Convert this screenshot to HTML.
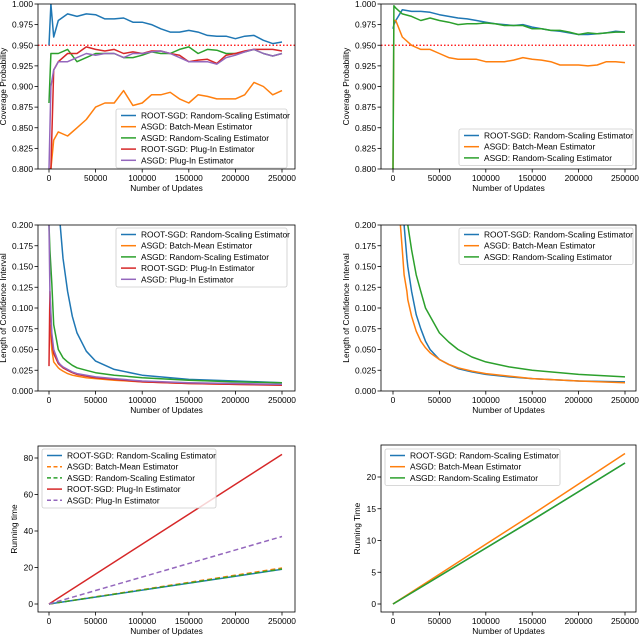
<!DOCTYPE html>
<html><head><meta charset="utf-8"><style>
body{margin:0;background:#fff}
svg{display:block;font-family:"Liberation Sans","DejaVu Sans",sans-serif}
</style></head><body>
<svg id="fig" width="640" height="636" viewBox="0 0 640 636" xmlns="http://www.w3.org/2000/svg"></svg>
<script>
// ---- data ----
const covX1 = [0,2000,5000,10000,20000,30000,40000,50000,60000,70000,80000,90000,100000,110000,120000,130000,140000,150000,160000,170000,180000,190000,200000,210000,220000,230000,240000,250000];
const cov1Root = [0.95,1.0,0.96,0.98,0.988,0.985,0.988,0.987,0.982,0.982,0.983,0.978,0.978,0.975,0.97,0.966,0.966,0.968,0.966,0.962,0.961,0.961,0.958,0.961,0.962,0.956,0.952,0.954];
const cov1Batch = [0.80,0.80,0.835,0.845,0.84,0.85,0.86,0.875,0.88,0.88,0.895,0.877,0.88,0.89,0.89,0.893,0.885,0.88,0.89,0.888,0.885,0.885,0.885,0.89,0.905,0.9,0.89,0.895];
const cov1AsgdRS = [0.88,0.94,0.94,0.94,0.945,0.93,0.935,0.94,0.94,0.94,0.935,0.935,0.938,0.942,0.94,0.94,0.945,0.948,0.94,0.945,0.944,0.94,0.94,0.942,0.945,0.94,0.937,0.94];
const cov1RootPI = [0.80,0.80,0.92,0.93,0.94,0.94,0.948,0.945,0.943,0.945,0.94,0.942,0.94,0.943,0.943,0.94,0.938,0.93,0.932,0.933,0.928,0.938,0.94,0.943,0.945,0.945,0.945,0.943];
const cov1AsgdPI = [0.80,0.90,0.92,0.93,0.93,0.935,0.94,0.938,0.94,0.94,0.935,0.94,0.94,0.942,0.943,0.94,0.935,0.93,0.93,0.93,0.927,0.935,0.938,0.942,0.945,0.94,0.937,0.94];
const covX2 = [0,1000,3000,10000,20000,30000,40000,50000,60000,70000,80000,90000,100000,110000,120000,130000,140000,150000,160000,170000,180000,190000,200000,210000,220000,230000,240000,250000];
const cov2Root = [0.97,0.975,0.98,0.993,0.991,0.991,0.99,0.987,0.985,0.983,0.982,0.98,0.978,0.976,0.975,0.974,0.975,0.972,0.97,0.968,0.967,0.965,0.963,0.963,0.964,0.965,0.967,0.966];
const cov2Batch = [0.80,0.98,0.98,0.96,0.95,0.945,0.945,0.94,0.935,0.933,0.933,0.933,0.93,0.93,0.93,0.932,0.935,0.933,0.932,0.93,0.926,0.926,0.926,0.925,0.926,0.93,0.93,0.929];
const cov2AsgdRS = [0.80,0.998,0.995,0.988,0.985,0.98,0.983,0.98,0.978,0.975,0.976,0.976,0.977,0.976,0.974,0.974,0.974,0.97,0.97,0.968,0.968,0.966,0.963,0.965,0.964,0.965,0.966,0.966];
const ciX = [0,1000,3000,5000,10000,12000,15000,20000,25000,30000,40000,50000,70000,100000,150000,200000,250000];
const ci1Root = [null,null,null,null,null,0.2,0.16,0.12,0.09,0.07,0.048,0.036,0.026,0.019,0.014,0.012,0.010];
const ci1Batch = [null,0.08,0.05,0.035,0.028,0.026,0.024,0.021,0.019,0.018,0.016,0.015,0.013,0.011,0.009,0.008,0.0075];
const ci1AsgdRS = [0.2,0.17,0.13,0.08,0.05,0.046,0.04,0.035,0.031,0.028,0.025,0.022,0.019,0.016,0.013,0.011,0.010];
const ci1RootPI = [0.03,0.12,0.06,0.045,0.033,0.031,0.028,0.025,0.022,0.02,0.018,0.016,0.014,0.011,0.009,0.008,0.007];
const ci1AsgdPI = [0.2,0.12,0.07,0.05,0.035,0.032,0.029,0.026,0.023,0.021,0.019,0.017,0.015,0.012,0.010,0.009,0.008];
const ciX2 = [8000,10000,12000,15000,16000,20000,25000,30000,35000,40000,50000,60000,70000,85000,100000,125000,150000,200000,250000];
const ci2Root = [null,null,0.2,0.16,0.15,0.12,0.092,0.075,0.06,0.05,0.038,0.032,0.027,0.023,0.02,0.017,0.015,0.012,0.011];
const ci2Batch = [0.2,0.17,0.14,0.12,0.11,0.09,0.072,0.06,0.052,0.046,0.038,0.032,0.028,0.024,0.021,0.018,0.015,0.012,0.010];
const ci2AsgdRS = [null,null,null,null,0.2,0.17,0.14,0.12,0.1,0.09,0.07,0.059,0.05,0.041,0.035,0.029,0.025,0.02,0.017];
const rtX = [0,250000];
const rt1Root = [0,19];
const rt1Batch = [0,19.7];
const rt1AsgdRS = [0,19.2];
const rt1RootPI = [0,82];
const rt1AsgdPI = [0,37];
const rtX2 = [0,50000,100000,150000,200000,250000];
const rt2Root = [0,4.4,8.8,13.2,17.7,22.2];
const rt2Batch = [0,4.7,9.4,14.1,18.9,23.7];
const rt2AsgdRS = [0,4.4,8.8,13.2,17.7,22.2];
const xTicks = [0,50000,100000,150000,200000,250000];
const covTicks = [0.800,0.825,0.850,0.875,0.900,0.925,0.950,0.975,1.000];
const ciTicks = [0,0.025,0.05,0.075,0.1,0.125,0.15,0.175,0.2];
const rt1Ticks = [0,20,40,60,80];
const rt2Ticks = [0,5,10,15,20];

const C = {blue:'#1f77b4',orange:'#ff7f0e',green:'#2ca02c',red:'#d62728',purple:'#9467bd'};
const NS='http://www.w3.org/2000/svg';
const fig=document.getElementById('fig');
const FS=8.4;
function mk(tag,attrs,parent){const e=document.createElementNS(NS,tag);for(const k in attrs)e.setAttribute(k,attrs[k]);(parent||fig).appendChild(e);return e;}
let clipId=0;

function panel(p){
  const g=mk('g',{});
  
  
  const sx=v=>p.x0px+(v-0)/250000*(p.x1px-p.x0px);
  const sy=v=>p.ybot+(v-p.ymin)/(p.ymax-p.ymin)*(p.ytop-p.ybot);
  const cid='c'+(clipId++);
  const cp=mk('clipPath',{id:cid},g);mk('rect',{x:p.L,y:p.T,width:p.R-p.L,height:p.B-p.T},cp);
  xTicks.forEach(t=>{const x=sx(t);mk('line',{x1:x,x2:x,y1:p.B,y2:p.B+3.5,stroke:'#000','stroke-width':0.8},g);
    const tx=mk('text',{x:x,y:p.B+12,'font-size':FS,'text-anchor':'middle'},g);tx.textContent=String(t);
    
    });
  p.yTicks.forEach(t=>{const y=sy(t);mk('line',{x1:p.L-3.5,x2:p.L,y1:y,y2:y,stroke:'#000','stroke-width':0.8},g);
    const tx=mk('text',{x:p.L-5,y:y+3,'font-size':FS,'text-anchor':'end'},g);tx.textContent=t.toFixed(p.dec);
    
    });
  const xl=mk('text',{x:(p.L+p.R)/2,y:p.B+22,'font-size':FS,'text-anchor':'middle'},g);xl.textContent='Number of Updates';
  
  
  const yx=p.ylabX,ym=(p.T+p.B)/2;
  const yl=mk('text',{x:yx,y:ym,'font-size':FS,'text-anchor':'middle',transform:`rotate(-90 ${yx} ${ym})`},g);yl.textContent=p.ylabel;
  
  
  const pg=mk('g',{'clip-path':`url(#${cid})`},g);
  if(p.ref!==undefined){const r=mk('line',{x1:p.L,x2:p.R,y1:sy(p.ref),y2:sy(p.ref),stroke:'#ff0000','stroke-width':1.3,'stroke-dasharray':'1.5 2'},pg);
    
    }
  p.series.forEach(s=>{
    let d='';let started=false;
    s.xs.forEach((xv,i)=>{const v=s.ys[i];if(v===null||v===undefined){return;}d+=(started?'L':'M')+sx(xv).toFixed(1)+' '+sy(v).toFixed(1);started=true;});
    const a={d:d,fill:'none',stroke:C[s.c],'stroke-width':1.5,'stroke-linejoin':'round'};
    if(s.dash)a['stroke-dasharray']='5 3';
    const path=mk('path',a,pg);
    
    
  });
  mk('rect',{x:p.L,y:p.T,width:p.R-p.L,height:p.B-p.T,fill:'none',stroke:'#000','stroke-width':0.8},g);
  const lg=mk('g',{},g);
  
  
  const n=p.series.length;const lw=p.legW,lh=n*11.2+3;
  mk('rect',{x:p.legX,y:p.legY,width:lw,height:lh,rx:2,fill:'#fff','fill-opacity':0.8,stroke:'#ccc','stroke-width':0.8},lg);
  p.series.forEach((s,i)=>{const y=p.legY+9.5+i*11.2;
    const a={x1:p.legX+5,x2:p.legX+20,y1:y-3,y2:y-3,stroke:C[s.c],'stroke-width':1.5};if(s.dash)a['stroke-dasharray']='4 2.5';
    const ln=mk('line',a,lg);
    
    
    const t=mk('text',{x:p.legX+25,y:y,'font-size':FS},lg);t.textContent=s.label;
    
    });
}
const L1='ROOT-SGD: Random-Scaling Estimator',L2='ASGD: Batch-Mean Estimator',L3='ASGD: Random-Scaling Estimator',L4='ROOT-SGD: Plug-In Estimator',L5='ASGD: Plug-In Estimator';
const left={L:38,R:295,x0px:49,x1px:282,ylabX:6};
const right={L:381,R:636,x0px:393,x1px:625,ylabX:349};

panel(Object.assign({name:'coverage-panel-left',T:4,B:169,ytop:4,ybot:169,ymin:0.8,ymax:1.0,yTicks:covTicks,dec:3,ylabel:'Coverage Probability',ref:0.95,legX:116,legY:109,legW:171,
  series:[{xs:covX1,ys:cov1Root,c:'blue',label:L1},{xs:covX1,ys:cov1Batch,c:'orange',label:L2},{xs:covX1,ys:cov1AsgdRS,c:'green',label:L3},{xs:covX1,ys:cov1RootPI,c:'red',label:L4},{xs:covX1,ys:cov1AsgdPI,c:'purple',label:L5}]},left));
panel(Object.assign({name:'coverage-panel-right',T:4,B:169,ytop:4,ybot:169,ymin:0.8,ymax:1.0,yTicks:covTicks,dec:3,ylabel:'Coverage Probability',ref:0.95,legX:459,legY:129,legW:174,
  series:[{xs:covX2,ys:cov2Root,c:'blue',label:L1},{xs:covX2,ys:cov2Batch,c:'orange',label:L2},{xs:covX2,ys:cov2AsgdRS,c:'green',label:L3}]},right));
panel(Object.assign({name:'ci-length-panel-left',T:225,B:391,ytop:225,ybot:391,ymin:0,ymax:0.2,yTicks:ciTicks,dec:3,ylabel:'Length of Confidence Interval',legX:116,legY:228,legW:171,
  series:[{xs:ciX,ys:ci1Root,c:'blue',label:L1},{xs:ciX,ys:ci1Batch,c:'orange',label:L2},{xs:ciX,ys:ci1AsgdRS,c:'green',label:L3},{xs:ciX,ys:ci1RootPI,c:'red',label:L4},{xs:ciX,ys:ci1AsgdPI,c:'purple',label:L5}]},left));
panel(Object.assign({name:'ci-length-panel-right',T:225,B:391,ytop:225,ybot:391,ymin:0,ymax:0.2,yTicks:ciTicks,dec:3,ylabel:'Length of Confidence Interval',legX:459,legY:228,legW:174,
  series:[{xs:ciX2,ys:ci2Root,c:'blue',label:L1},{xs:ciX2,ys:ci2Batch,c:'orange',label:L2},{xs:ciX2,ys:ci2AsgdRS,c:'green',label:L3}]},right));
panel(Object.assign({name:'runtime-panel-left',T:446,B:612,ytop:458,ybot:604,ymin:0,ymax:80,yTicks:rt1Ticks,dec:0,ylabel:'Running time',legX:42,legY:449,legW:174,
  series:[{xs:rtX,ys:rt1Root,c:'blue',label:L1},{xs:rtX,ys:rt1Batch,c:'orange',label:L2,dash:1},{xs:rtX,ys:rt1AsgdRS,c:'green',label:L3,dash:1},{xs:rtX,ys:rt1RootPI,c:'red',label:L4},{xs:rtX,ys:rt1AsgdPI,c:'purple',label:L5,dash:1}]},left,{ylabX:17}));
panel(Object.assign({name:'runtime-panel-right',T:445,B:612,ytop:477,ybot:604,ymin:0,ymax:20,yTicks:rt2Ticks,dec:0,ylabel:'Running Time',legX:385,legY:449,legW:175,
  series:[{xs:rtX2,ys:rt2Root,c:'blue',label:L1},{xs:rtX2,ys:rt2Batch,c:'orange',label:L2},{xs:rtX2,ys:rt2AsgdRS,c:'green',label:L3}]},right,{ylabX:360}));
</script>
</body></html>
